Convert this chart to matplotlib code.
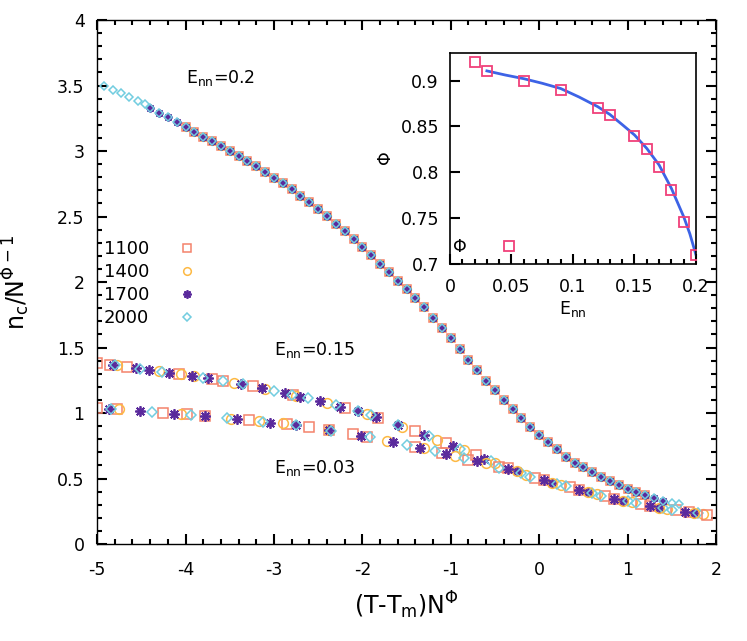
import numpy as np
import matplotlib
matplotlib.use("Agg")
import matplotlib.pyplot as plt
from matplotlib.ticker import MultipleLocator, FuncFormatter

plt.rcParams['font.family'] = ['DejaVu Sans']
plt.rcParams['axes.unicode_minus'] = False
plt.rcParams['mathtext.default'] = 'regular'

# ---------------- data ----------------
sizes = ["1100", "1400", "1700", "2000"]

# E_nn = 0.2 master (collapsed) curve
e20_x = [-4.4, -4.3, -4.2, -4.1, -4.0, -3.9, -3.8, -3.7, -3.6, -3.5,
         -3.4, -3.3, -3.2, -3.1, -3.0, -2.9, -2.8, -2.7, -2.6, -2.5,
         -2.4, -2.3, -2.2, -2.1, -2.0, -1.9, -1.8, -1.7, -1.6, -1.5,
         -1.4, -1.3, -1.2, -1.1, -1.0, -0.9, -0.8, -0.7, -0.6, -0.5,
         -0.4, -0.3, -0.2, -0.1, 0.0, 0.1, 0.2, 0.3, 0.4, 0.5,
         0.6, 0.7, 0.8, 0.9, 1.0, 1.1, 1.2, 1.3, 1.4, 1.5]
e20_y = [3.330, 3.293, 3.256, 3.219, 3.182, 3.145, 3.110, 3.073, 3.036, 2.999,
         2.962, 2.925, 2.882, 2.839, 2.796, 2.753, 2.710, 2.660, 2.610, 2.560,
         2.503, 2.446, 2.389, 2.332, 2.268, 2.204, 2.140, 2.076, 2.010, 1.944,
         1.878, 1.806, 1.728, 1.650, 1.570, 1.488, 1.405, 1.325, 1.248, 1.172,
         1.097, 1.028, 0.960, 0.895, 0.830, 0.776, 0.722, 0.668, 0.622, 0.585,
         0.548, 0.511, 0.480, 0.451, 0.422, 0.399, 0.376, 0.353, 0.330, 0.314]
# x-range covered by each size on the E_nn=0.2 curve
e20_range = {"1100": (-4.0, 1.2), "1400": (-4.0, 1.2),
             "1700": (-4.4, 1.4), "2000": (-4.4, 1.5)}
e20_2000_extra_x = [-4.92, -4.82, -4.73, -4.64, -4.54, -4.46, 1.58]
e20_2000_extra_y = [3.498, 3.466, 3.440, 3.410, 3.384, 3.356, 0.305]

# E_nn = 0.15
e15_x = {
    "1100": [-5.0, -4.85, -4.66, -4.07, -3.70, -3.58, -3.24, -2.78, -2.20, -1.82,
             -1.40, -1.05, -0.72, -0.35, 0.05, 0.45, 0.85, 1.25, 1.70],
    "1400": [-4.78, -4.30, -4.05, -3.90, -3.45, -3.10, -2.75, -2.40, -1.95, -1.55,
             -1.15, -0.85, -0.50, -0.15, 0.25, 0.65, 1.05, 1.45, 1.85],
    "1700": [-4.82, -4.56, -4.41, -4.19, -3.93, -3.75, -3.37, -3.13, -2.88, -2.70,
             -2.48, -2.25, -2.05, -1.85, -1.60, -1.30, -0.98, -0.62, -0.25, 0.15,
             0.55, 0.95, 1.35, 1.75],
    "2000": [-4.80, -4.52, -4.27, -3.80, -3.58, -3.35, -3.00, -2.80, -2.61, -2.30,
             -2.05, -1.90, -1.60, -1.25, -0.90, -0.55, -0.20, 0.20, 0.60, 1.00,
             1.40, 1.80],
}
e15_y = {
    "1100": [1.384, 1.369, 1.351, 1.300, 1.260, 1.247, 1.205, 1.137, 1.040, 0.965,
             0.860, 0.770, 0.678, 0.580, 0.485, 0.415, 0.347, 0.290, 0.243],
    "1400": [1.363, 1.317, 1.299, 1.285, 1.231, 1.185, 1.132, 1.075, 0.993, 0.897,
             0.797, 0.714, 0.618, 0.530, 0.452, 0.379, 0.318, 0.267, 0.227],
    "1700": [1.367, 1.341, 1.326, 1.309, 1.286, 1.265, 1.221, 1.190, 1.152, 1.125,
             1.089, 1.049, 1.014, 0.971, 0.910, 0.835, 0.749, 0.650, 0.555, 0.468,
             0.396, 0.332, 0.277, 0.238],
    "2000": [1.365, 1.337, 1.315, 1.270, 1.247, 1.219, 1.170, 1.140, 1.111, 1.058,
             1.014, 0.983, 0.910, 0.822, 0.727, 0.632, 0.545, 0.459, 0.388, 0.325,
             0.272, 0.233],
}

# E_nn = 0.03
e03_x = {
    "1100": [-5.0, -4.78, -4.26, -3.98, -3.78, -3.28, -2.85, -2.60, -2.38, -2.11,
             -1.95, -1.40, -1.10, -0.80, -0.45, -0.05, 0.35, 0.75, 1.15, 1.55, 1.90],
    "1400": [-4.75, -4.05, -3.48, -3.17, -2.90, -2.38, -1.72, -1.30, -0.95, -0.60,
             -0.25, 0.15, 0.55, 0.95, 1.35, 1.75],
    "1700": [-4.87, -4.51, -4.13, -3.78, -3.42, -3.04, -2.75, -2.38, -2.02, -1.65,
             -1.35, -1.05, -0.70, -0.35, 0.05, 0.45, 0.85, 1.25, 1.65],
    "2000": [-4.84, -4.38, -3.94, -3.53, -3.12, -2.75, -2.36, -1.91, -1.50, -1.18,
             -0.85, -0.45, -0.10, 0.30, 0.70, 1.10, 1.50],
}
e03_y = {
    "1100": [1.040, 1.029, 1.003, 0.990, 0.978, 0.947, 0.915, 0.890, 0.868, 0.838,
             0.820, 0.743, 0.698, 0.645, 0.590, 0.505, 0.436, 0.363, 0.304, 0.257, 0.222],
    "1400": [1.027, 0.992, 0.957, 0.938, 0.920, 0.868, 0.788, 0.730, 0.672, 0.618,
             0.555, 0.468, 0.396, 0.332, 0.277, 0.238],
    "1700": [1.034, 1.015, 0.996, 0.978, 0.953, 0.926, 0.905, 0.868, 0.828, 0.780,
             0.736, 0.690, 0.632, 0.573, 0.485, 0.415, 0.347, 0.290, 0.248],
    "2000": [1.032, 1.009, 0.986, 0.960, 0.934, 0.905, 0.866, 0.814, 0.758, 0.712,
             0.655, 0.582, 0.515, 0.445, 0.370, 0.310, 0.262],
}

# inset: exponent Phi vs E_nn
phi_E = [0.02, 0.03, 0.06, 0.09, 0.12, 0.13, 0.15, 0.16, 0.17, 0.18, 0.19, 0.20]
phi_val = [0.920, 0.910, 0.900, 0.890, 0.870, 0.862, 0.840, 0.825, 0.806, 0.781, 0.746, 0.710]
fit_E = [0.03, 0.045, 0.06, 0.075, 0.09, 0.105, 0.12, 0.13, 0.14, 0.15,
         0.16, 0.17, 0.18, 0.19, 0.195, 0.20]
fit_phi = [0.9105, 0.906, 0.902, 0.897, 0.8913, 0.882, 0.8716, 0.863, 0.852, 0.8407,
           0.826, 0.808, 0.7825, 0.7516, 0.733, 0.71]

# ---------------- styles ----------------
colors = {"1100": "#f4836b", "1400": "#fdb944", "1700": "#5a2a9c", "2000": "#72cde0"}
markers = {"1100": "s", "1400": "o", "1700": (8, 2, 0), "2000": "D"}
ms_big = {"1100": 7.0, "1400": 7.0, "1700": 7.5, "2000": 5.5}
ms_small = {"1100": 5.5, "1400": 5.5, "1700": 6.0, "2000": 4.3}

fig = plt.figure(figsize=(7.47, 6.41), dpi=100)
ax = fig.add_axes([0.130, 0.1513, 0.8285, 0.8175])

def style(k, ms):
    return dict(linestyle='none', marker=markers[k], mfc='none', mec=colors[k],
                ms=ms, mew=1.1 if k != "1700" else 1.3)

# lower curves
for k in sizes:
    ax.plot(e15_x[k], e15_y[k], **style(k, ms_big[k]))
for k in sizes:
    ax.plot(e03_x[k], e03_y[k], **style(k, ms_big[k]))

# top curve
x20 = np.array(e20_x)
y20 = np.array(e20_y)
handles = {}
for k in sizes:
    lo, hi = e20_range[k]
    m = (x20 >= lo - 1e-9) & (x20 <= hi + 1e-9)
    xs = list(x20[m])
    ys = list(y20[m])
    if k == "2000":
        xs = xs + e20_2000_extra_x
        ys = ys + e20_2000_extra_y
    h, = ax.plot(xs, ys, label=k, **style(k, ms_small[k]))
    handles[k] = h

ax.set_xlim(-5, 2)
ax.set_ylim(0, 4)
ax.xaxis.set_major_locator(MultipleLocator(1))
ax.xaxis.set_minor_locator(MultipleLocator(0.2))
ax.yaxis.set_major_locator(MultipleLocator(0.5))
ax.yaxis.set_minor_locator(MultipleLocator(0.1))
ax.xaxis.set_major_formatter(FuncFormatter(lambda v, p: '%g' % round(v, 6)))
ax.yaxis.set_major_formatter(FuncFormatter(lambda v, p: '%g' % round(v, 6)))
ax.tick_params(axis='both', which='both', direction='in', top=True, right=True,
               bottom=True, left=True, labelsize=12.5, color='black',
               width=1.5, zorder=10)
ax.tick_params(which='major', length=7.5)
ax.tick_params(which='minor', length=3.8)
ax.tick_params(axis='x', which='major', pad=12)
ax.tick_params(axis='y', which='major', pad=9)
for s in ax.spines.values():
    s.set_linewidth(1.0)

ax.set_xlabel(r'(T-T$_{m}$)N$^{\Phi}$', fontsize=17, labelpad=8)
ax.set_ylabel(r'n$_{c}$/N$^{\Phi-1}$', fontsize=17, labelpad=18)

ax.text(-4.0, 3.517, r'E$_{nn}$=0.2', fontsize=12.5, va='baseline', ha='left')
ax.text(-3.0, 1.443, r'E$_{nn}$=0.15', fontsize=12.5, va='baseline', ha='left')
ax.text(-3.0, 0.544, r'E$_{nn}$=0.03', fontsize=12.5, va='baseline', ha='left')

leg = ax.legend([handles[k] for k in sizes], sizes, loc='upper left',
                bbox_to_anchor=(0.011, 0.58), frameon=False, markerfirst=False,
                fontsize=13, handlelength=1.0, handletextpad=1.6,
                labelspacing=0.28, borderpad=0.0, borderaxespad=0.0)

# ---------------- inset ----------------
ins = fig.add_axes([0.6024, 0.5881, 0.3293, 0.3292])
ins.plot(fit_E, fit_phi, color='#3d63e6', lw=2.0, zorder=2)
ph, = ins.plot(phi_E, phi_val, linestyle='none', marker='s', mfc='none',
               mec='#f0407a', ms=7, mew=1.3, zorder=3)
ins.set_xlim(0, 0.2)
ins.set_ylim(0.7, 0.93)
ins.xaxis.set_major_locator(MultipleLocator(0.05))
ins.xaxis.set_minor_locator(MultipleLocator(0.01))
ins.yaxis.set_major_locator(MultipleLocator(0.05))
ins.yaxis.set_minor_locator(MultipleLocator(1.0))
ins.xaxis.set_major_formatter(FuncFormatter(lambda v, p: '%g' % round(v, 6)))
ins.yaxis.set_major_formatter(FuncFormatter(lambda v, p: '%g' % round(v, 6)))
ins.tick_params(axis='both', which='both', direction='in', top=False, right=False,
                bottom=True, left=True, labelsize=12.5, color='black',
                width=1.5, zorder=10)
ins.tick_params(which='major', length=7.5)
ins.tick_params(which='minor', length=3.8)
ins.tick_params(axis='x', which='major', pad=10)
ins.tick_params(axis='y', which='major', pad=8)
for s in ins.spines.values():
    s.set_linewidth(1.2)
ins.set_xlabel(r'E$_{nn}$', fontsize=12.5, labelpad=2)
ins.set_ylabel(r'$\Phi$', fontsize=12.5, labelpad=4)
ins.legend([ph], [r'$\Phi$'], loc='lower left', bbox_to_anchor=(0.01, 0.04),
           frameon=False, markerfirst=False, fontsize=12.5, handlelength=1.0,
           handletextpad=1.9, borderpad=0.0, borderaxespad=0.0)

fig.savefig('out.png', dpi=100)
